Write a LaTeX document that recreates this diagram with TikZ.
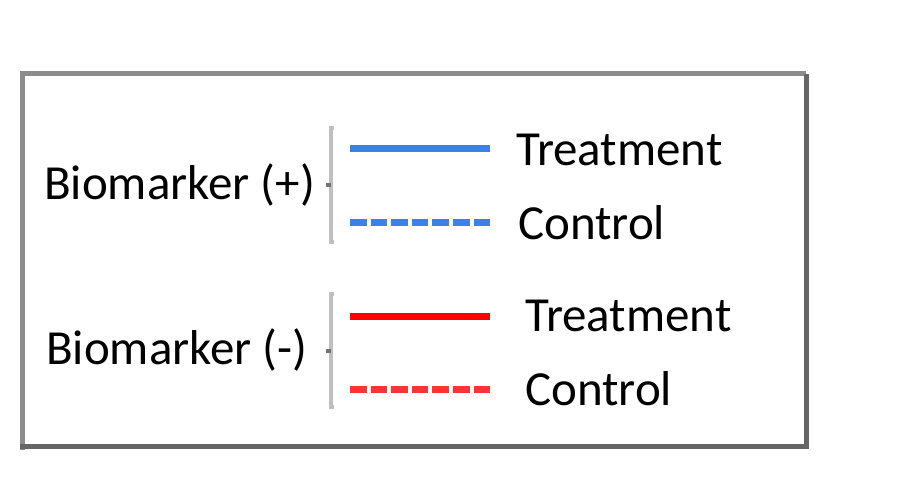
\documentclass[tikz,border=0pt]{standalone}
\usepackage{fontspec}
\setmainfont{Carlito}
\begin{document}
\begin{tikzpicture}[x=1pt,y=-1pt,
  lbl/.style={inner sep=0pt,anchor=west,font=\fontsize{49}{58}\selectfont},
  brk/.style={draw=black!25,line width=3.5pt},
  bluesolid/.style={draw=blueln,line width=7pt},
  bluedash/.style={draw=blueln,line width=7pt,dash pattern=on 16.6pt off 4pt},
  redsolid/.style={draw=red,line width=7pt},
  reddash/.style={draw=red!80,line width=7pt,dash pattern=on 16.6pt off 4pt}]
\definecolor{blueln}{RGB}{59,130,232}
\useasboundingbox (0,0) rectangle (903,495);
\fill[white] (0,0) rectangle (903,495);
% frame
\draw[draw=black!45,line width=5pt] (22,450) -- (22,74) -- (806,74);
\draw[draw=black!60,line width=5pt] (806,74) -- (806,446) -- (20,446);
% biomarker +
\node[lbl] (bp) at (44,185) {Biomarker (+)};
\coordinate (bpt) at (331,128);
\coordinate (bpb) at (331,242);
\coordinate (bpm) at (326,185);
\draw[brk] ([xshift=3pt]bpt) -- (bpt) -- (bpb) -- ([xshift=3pt]bpb);
\draw[draw=black!55,line width=4pt] (bpm) -- ++(5,0);
\coordinate (b1a) at (350,148); \coordinate (b1b) at (490,148);
\coordinate (b2a) at (350,222); \coordinate (b2b) at (490,222);
\draw[bluesolid] (b1a) -- (b1b);
\draw[bluedash] (b2a) -- (b2b);
\node[lbl] (bt) at (516,150) {Treatment};
\node[lbl] (bc) at (518,223) {Control};
% biomarker -
\node[lbl] (bm) at (46,350) {Biomarker (-)};
\coordinate (rmt) at (331,294);
\coordinate (rmb) at (331,407);
\coordinate (rmm) at (326,351);
\draw[brk] ([xshift=3pt]rmt) -- (rmt) -- (rmb) -- ([xshift=3pt]rmb);
\draw[draw=black!55,line width=4pt] (rmm) -- ++(5,0);
\coordinate (r1a) at (350,316); \coordinate (r1b) at (490,316);
\coordinate (r2a) at (350,389); \coordinate (r2b) at (490,389);
\draw[redsolid] (r1a) -- (r1b);
\draw[reddash] (r2a) -- (r2b);
\node[lbl] (rt) at (525,316) {Treatment};
\node[lbl] (rc) at (525,389) {Control};
\end{tikzpicture}
\end{document}
